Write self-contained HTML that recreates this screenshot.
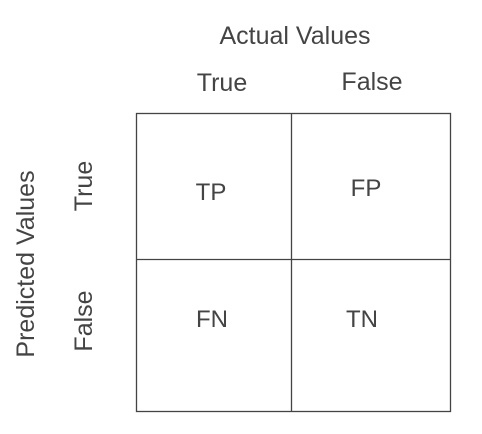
<!DOCTYPE html>
<html><head><style>
html,body{margin:0;padding:0;background:#fff;width:482px;height:434px;overflow:hidden}
</style></head><body>
<svg width="482" height="434" xmlns="http://www.w3.org/2000/svg" font-family="Liberation Sans, sans-serif" fill="#444" font-size="25">
<rect x="136.5" y="113.5" width="314" height="298" fill="none" stroke="#444" stroke-width="1.3"/>
<line x1="291.5" y1="113" x2="291.5" y2="412" stroke="#444" stroke-width="1.3"/>
<line x1="136" y1="259.5" x2="451" y2="259.5" stroke="#444" stroke-width="1.3"/>
<text x="295" y="44" text-anchor="middle">Actual Values</text>
<text x="222" y="91" text-anchor="middle">True</text>
<text x="372" y="90" text-anchor="middle">False</text>
<g font-size="24">
<text x="211" y="200" text-anchor="middle">TP</text>
<text x="366" y="196" text-anchor="middle">FP</text>
<text x="212" y="327" text-anchor="middle">FN</text>
<text x="362" y="327" text-anchor="middle">TN</text>
</g>
<text transform="translate(34,264) rotate(-90)" text-anchor="middle">Predicted Values</text>
<text transform="translate(92,186) rotate(-90)" text-anchor="middle">True</text>
<text transform="translate(92,321) rotate(-90)" text-anchor="middle">False</text>
</svg>
</body></html>
